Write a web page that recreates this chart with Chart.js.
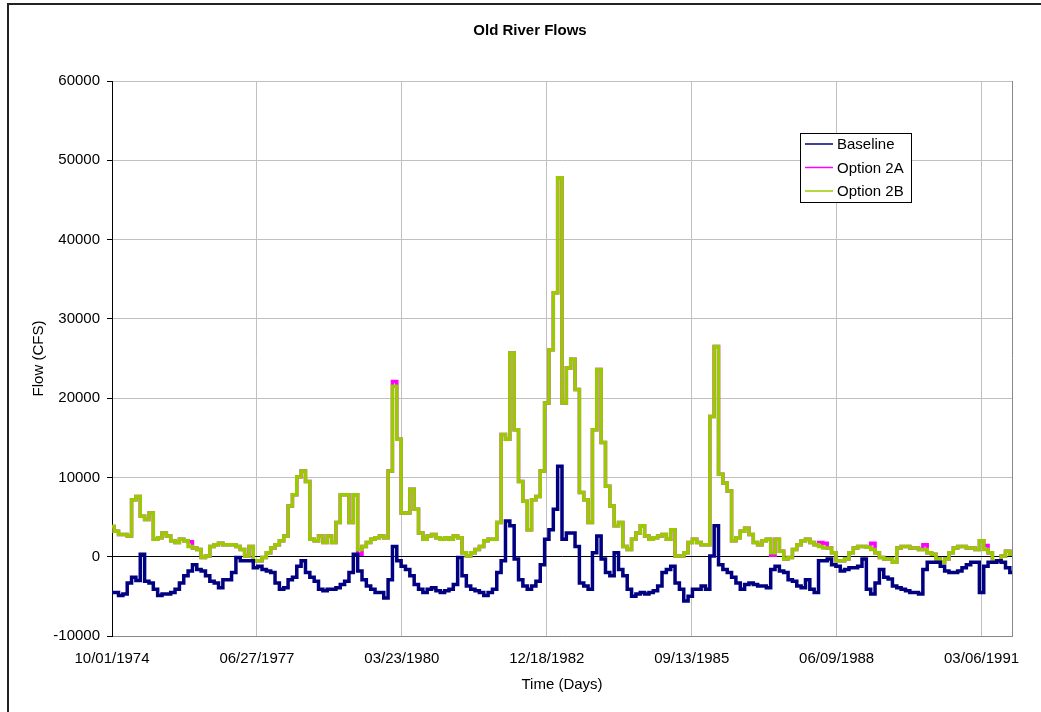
<!DOCTYPE html>
<html>
<head>
<meta charset="utf-8">
<title>Old River Flows</title>
<script src="https://cdn.jsdelivr.net/npm/chart.js@4.4.1/dist/chart.umd.min.js"></script>
<style>
  html, body { margin: 0; padding: 0; background: #fff; }
  #wrap { width: 1041px; height: 712px; }
</style>
</head>
<body>
<div id="wrap"><canvas id="flowChart" width="1041" height="712"></canvas></div>
<script>
// one reading every 30 days, starting 10/01/1974 (day 0)
const dayStep = 30;
const xTickDays = [0, 1000, 2000, 3000, 4000, 5000, 6000];
const xTickLabels = ['10/01/1974', '06/27/1977', '03/23/1980', '12/18/1982', '09/13/1985', '06/09/1988', '03/06/1991'];
const yTicks = [-10000, 0, 10000, 20000, 30000, 40000, 50000, 60000];
const seriesNames = ['Baseline', 'Option 2A', 'Option 2B'];

const baseline = [
    -4500, -4500, -4900, -4700, -3300, -2600, -3000, 300, -3100, -3300, -4100, -4900, -4700, -4700, -4500, -4100, -3300,
    -2400, -1800, -1000, -1600, -1800, -2400, -3100, -3300, -3900, -2900, -2900, -2000, -100, -500, -500, -500, -1400,
    -1200, -1600, -1800, -2000, -3300, -4100, -3900, -2900, -2600, -1200, -500, -2000, -2600, -3100, -4100, -4300, -4100,
    -4100, -3900, -3500, -3100, -2000, 300, -1800, -2900, -3700, -4100, -4500, -4500, -5200, -2900, 1300, -500,
    -1200, -1600, -2400, -3500, -4100, -4500, -4100, -3900, -4300, -4500, -4300, -4100, -3500, -100, -2400, -3700, -4100,
    -4300, -4500, -4900, -4500, -4100, -2000, -500, 4500, 3900, -300, -2900, -3700, -4100, -3700, -3100, -1000,
    2200, 3400, 6000, 11400, 2200, 3000, 3000, 1300, -3300, -3700, -4100, 500, 2600, -300, -2000, -2400, 500, -1600,
    -2400, -4100, -5000, -4700, -4500, -4700, -4500, -4300, -3700, -2000, -1600, -1200, -3300, -4100, -5600, -5000, -4100,
    -4100, -3700, -4100, 100, 3900, -1000, -1600, -2000, -2600, -3300, -4100, -3500, -3300, -3500, -3700, -3700, -3900,
    -1600, -1200, -1800, -2000, -2900, -3100, -3700, -3900, -2900, -4100, -4500, -500, -500, -300, -1000, -1200, -1800,
    -1600, -1400, -1400, -1200, -300, -4100, -4700, -3300, -1600, -2600, -2800, -3700, -3900, -4100, -4300, -4500, -4500,
    -4700, -1600, -700, -700, -700, -1200, -1800, -2000, -2000, -1800, -1400, -1000, -700, -700, -4500, -1200, -700,
    -700, -500, -700, -1400, -2000
];

const option2A = [
    3800, 3200, 2800, 2800, 2600, 7200, 7600, 5100, 4700, 5500, 2200, 2400, 3000, 2600, 2000, 1800, 2200,
    2000, 1900, 1100, 900, -100, 100, 1300, 1500, 1700, 1500, 1500, 1500, 1300, 900, 100, 1300, -500,
    -500, -100, 500, 1100, 1500, 2000, 2600, 6400, 7800, 10100, 10800, 9500, 2200, 2000, 2600, 1800, 2600,
    1800, 4300, 7800, 7800, 4300, 7800, 300, 1300, 1800, 2200, 2400, 2600, 2400, 10800, 22100, 14800,
    5500, 5500, 8500, 6000, 3000, 2200, 2600, 2800, 2400, 2200, 2400, 2200, 2600, 2400, 500, 100, 500,
    900, 1300, 2000, 2200, 2200, 4300, 15400, 14800, 25700, 16000, 9500, 7000, 3400, 7200, 7600, 10800,
    19400, 26100, 33300, 47800, 19400, 23800, 24900, 21100, 8100, 7200, 4300, 16000, 23600, 14400, 8900, 6400, 3900,
    4300, 1300, 900, 2200, 3000, 3900, 2600, 2200, 2400, 2600, 2800, 2200, 3400, 100, 100, 500, 1800, 2200,
    1800, 1500, 1500, 17700, 26500, 10400, 9300, 8300, 2000, 2400, 3200, 3600, 2800, 1800, 1500, 2000, 2200,
    200, 2200, 700, -300, -100, 900, 1500, 2000, 2200, 1800, 1500, 1800, 1700, 1100, 500, -500, -500,
    -300, 500, 1100, 1300, 1300, 1200, 1700, 500, -100, -300, -300, -700, 1100, 1300, 1300, 1100, 1100,
    900, 1500, 500, 300, -300, -700, -300, 500, 1100, 1300, 1300, 1100, 1100, 900, 2000, 1400, 500,
    -500, -500, 100, 700, 300
];

const option2B = [
    3800, 3200, 2800, 2800, 2600, 7200, 7600, 5100, 4700, 5500, 2200, 2400, 3000, 2600, 2000, 1800, 2200,
    2000, 1300, 1100, 900, -100, 100, 1300, 1500, 1700, 1500, 1500, 1500, 1300, 900, 100, 1300, -500,
    -500, -100, 500, 1100, 1500, 2000, 2600, 6400, 7800, 10100, 10800, 9500, 2200, 2000, 2600, 1800, 2600,
    1800, 4300, 7800, 7800, 4300, 7800, 900, 1300, 1800, 2200, 2400, 2600, 2400, 10800, 21500, 14800,
    5500, 5500, 8500, 6000, 3000, 2200, 2600, 2800, 2400, 2200, 2400, 2200, 2600, 2400, 500, 100, 500,
    900, 1300, 2000, 2200, 2200, 4300, 15400, 14800, 25700, 16000, 9500, 7000, 3400, 7200, 7600, 10800,
    19400, 26100, 33300, 47800, 19400, 23800, 24900, 21100, 8100, 7200, 4300, 16000, 23600, 14400, 8900, 6400, 3900,
    4300, 1300, 900, 2200, 3000, 3900, 2600, 2200, 2400, 2600, 2800, 2200, 3400, 100, 100, 500, 1800, 2200,
    1800, 1500, 1500, 17700, 26500, 10400, 9300, 8300, 2000, 2400, 3200, 3600, 2800, 1800, 1500, 2000, 2200,
    500, 2200, 700, -300, -100, 900, 1500, 2000, 2200, 1800, 1500, 1300, 1100, 1100, 500, -500, -500,
    -300, 500, 1100, 1300, 1300, 1200, 900, 500, -100, -300, -300, -700, 1100, 1300, 1300, 1100, 1100,
    900, 900, 500, 300, -300, -700, -300, 500, 1100, 1300, 1300, 1100, 1100, 900, 2000, 900, 500,
    -500, -500, 100, 700, 300
];

const colors = ['#000080', '#ff00ff', '#99cc00'];

function toPoints(values) {
    return values.map((v, i) => ({ x: i * dayStep, y: v }));
}

Chart.defaults.font.family = 'Arial, "Liberation Sans", sans-serif';
Chart.defaults.font.size = 15;
Chart.defaults.color = '#000';

// frame, title and legend the Excel way
const decor = {
    id: 'decor',
    beforeDraw(chart) {
        const c = chart.ctx;
        c.save();
        c.fillStyle = '#fff';
        c.fillRect(0, 0, chart.width, chart.height);
        c.restore();
    },
    afterDraw(chart) {
        const c = chart.ctx;
        const a = chart.chartArea;
        c.save();
        // plot area edge on the right
        c.strokeStyle = '#888';
        c.lineWidth = 1;
        c.beginPath();
        c.moveTo(Math.round(a.right) + 0.5, a.top);
        c.lineTo(Math.round(a.right) + 0.5, a.bottom);
        c.stroke();
        // outer frame
        c.strokeStyle = '#222';
        c.lineWidth = 2;
        c.strokeRect(8, 4, 1200, 900);
        // title
        c.fillStyle = '#000';
        c.font = 'bold 15px Arial, "Liberation Sans", sans-serif';
        c.textAlign = 'center';
        c.textBaseline = 'middle';
        c.fillText('Old River Flows', 530, 31);
        // legend
        const lx = 800, ly = 133, lw = 111, lh = 69;
        c.fillStyle = '#fff';
        c.fillRect(lx, ly, lw, lh);
        c.strokeStyle = '#000';
        c.lineWidth = 1;
        c.strokeRect(lx + 0.5, ly + 0.5, lw, lh);
        c.font = '15px Arial, "Liberation Sans", sans-serif';
        c.textAlign = 'left';
        seriesNames.forEach((name, i) => {
            const y = ly + 11 + i * 23.5;
            c.strokeStyle = colors[i];
            c.lineWidth = 1.5;
            c.beginPath();
            c.moveTo(lx + 5, y);
            c.lineTo(lx + 33, y);
            c.stroke();
            c.fillStyle = '#000';
            c.fillText(name, lx + 37, y + 1);
        });
        c.restore();
    }
};

const ctx = document.getElementById('flowChart');

const chart = new Chart(ctx, {
    type: 'line',
    data: {
        datasets: [{
            label: seriesNames[0],
            data: toPoints(baseline),
            borderColor: colors[0],
            borderWidth: 3.5,
            order: 0
        },
        {
            label: seriesNames[1],
            data: toPoints(option2A),
            borderColor: colors[1],
            borderWidth: 3.5,
            order: 2
        },
        {
            label: seriesNames[2],
            data: toPoints(option2B),
            borderColor: colors[2],
            borderWidth: 3.5,
            order: 1
        }]
    },
    options: {
        responsive: false,
        animation: false,
        events: [],
        elements: {
            point: { radius: 0 },
            line: { tension: 0, stepped: 'middle', borderJoinStyle: 'miter' }
        },
        layout: {
            padding: { top: 81, right: 29, bottom: 0, left: 0 }
        },
        plugins: {
            legend: { display: false },
            title: { display: false },
            tooltip: { enabled: false }
        },
        scales: {
            x: {
                type: 'linear',
                min: 0,
                max: 6210,
                afterFit: s => { s.height = 76; },
                afterBuildTicks: s => { s.ticks = xTickDays.map(v => ({ value: v })); },
                ticks: {
                    autoSkip: false,
                    maxRotation: 0,
                    padding: 14,
                    callback: v => xTickLabels[xTickDays.indexOf(v)]
                },
                grid: { color: '#c0c0c0', drawTicks: false },
                border: { color: '#888' },
                title: {
                    display: true,
                    text: 'Time (Days)',
                    padding: { top: 0, bottom: 18 }
                }
            },
            y: {
                min: -10000,
                max: 60000,
                afterFit: s => { s.width = 112; },
                afterBuildTicks: s => { s.ticks = yTicks.map(v => ({ value: v })); },
                ticks: {
                    padding: 7,
                    callback: v => String(v)
                },
                grid: {
                    color: c => (c.tick && c.tick.value === 0 ? '#000' : '#c0c0c0'),
                    tickColor: '#000',
                    tickLength: 5
                },
                border: { color: '#000' },
                title: {
                    display: true,
                    text: 'Flow (CFS)',
                    padding: { top: 30, bottom: 0 }
                }
            }
        }
    },
    plugins: [decor]
});
</script>
</body>
</html>
